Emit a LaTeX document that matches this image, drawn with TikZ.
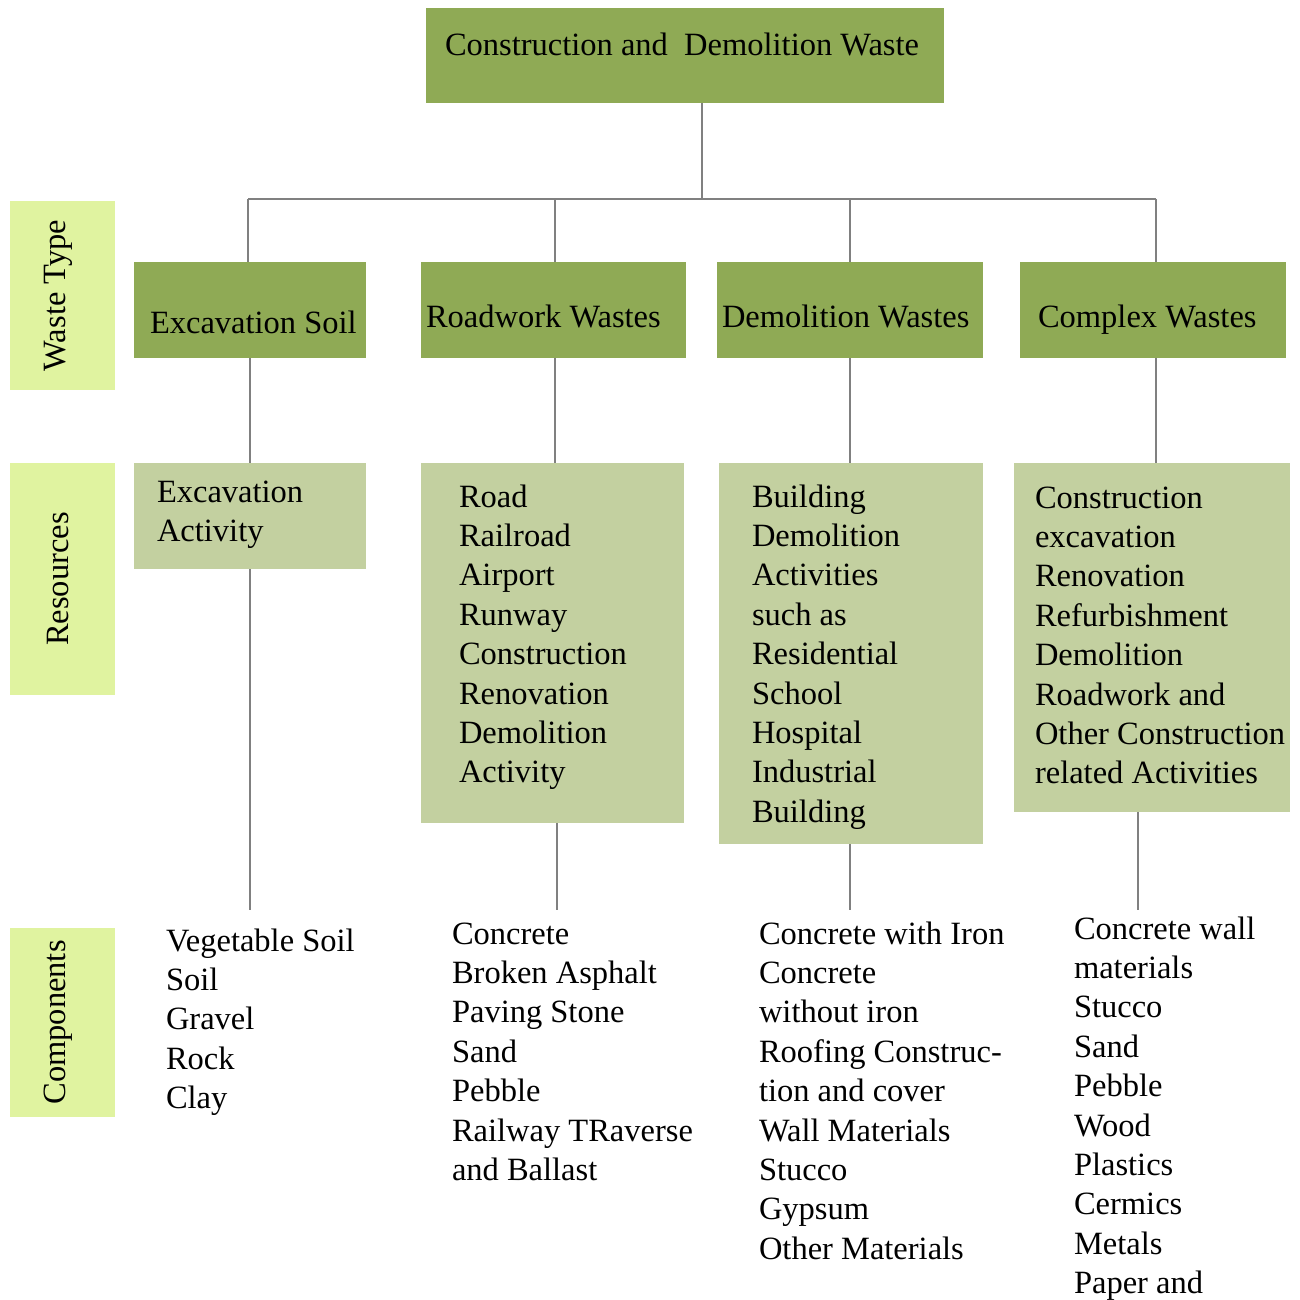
\documentclass[tikz,border=0pt]{standalone}
\usepackage{fontspec}
\setmainfont{Liberation Serif}
\definecolor{headgreen}{HTML}{8FAA55}
\definecolor{srcgreen}{HTML}{C3D0A0}
\definecolor{tagyellow}{HTML}{E0F3A0}
\definecolor{wire}{HTML}{808080}
% left-aligned line stack whose baseline is that of its first line
\newcommand\colstack[1]{\begin{tabular}[t]{@{}l@{}}#1\end{tabular}}
\begin{document}
\begin{tikzpicture}[x=1pt,y=-1pt,
  box/.style={rectangle,draw=none,inner sep=0pt,outer sep=0pt},
  headbox/.style={box,fill=headgreen},
  srcbox/.style={box,fill=srcgreen},
  tagbox/.style={box,fill=tagyellow},
  txt/.style={inner sep=0pt,outer sep=0pt,anchor=base west,
    font=\fontsize{32.5}{39.4}\selectfont},
  tagtxt/.style={inner sep=0pt,rotate=90,anchor=center,
    font=\fontsize{32.5}{39.4}\selectfont},
  conn/.style={draw=wire,line width=1.6pt}]
\useasboundingbox (0,0) rectangle (1299,1300);

% side labels
\node[tagbox,minimum width=105pt,minimum height=189pt] (lwaste) at (62.5,295.5) {};
\node[tagbox,minimum width=105pt,minimum height=232pt] (lres) at (62.5,579) {};
\node[tagbox,minimum width=105pt,minimum height=189pt] (lcomp) at (62.5,1022.5) {};
\node[tagtxt] (lwastetxt) at (lwaste.center -| 58,0) {Waste Type};
\node[tagtxt] (lrestxt) at (lres.center -| 58,0) {Resources};
\node[tagtxt] (lcomptxt) at (lcomp.center -| 58,0) {Components};

% root
\node[headbox,minimum width=518pt,minimum height=95pt] (title) at (685,55.5) {};
\node[txt] (titletxt) at (445,56) {Construction and~ Demolition Waste};

% waste types
\node[headbox,minimum width=232pt,minimum height=96pt] (ex) at (250,310) {};
\node[headbox,minimum width=265pt,minimum height=96pt] (road) at (553.5,310) {};
\node[headbox,minimum width=266pt,minimum height=96pt] (demo) at (850,310) {};
\node[headbox,minimum width=266pt,minimum height=96pt] (cplx) at (1153,310) {};
\node[txt] (extxt) at (150,333) {Excavation Soil};
\node[txt] (roadtxt) at (426,327) {Roadwork Wastes};
\node[txt] (demotxt) at (722,327) {Demolition Wastes};
\node[txt] (cplxtxt) at (1038,327) {Complex Wastes};

% resources
\node[srcbox,minimum width=232pt,minimum height=106pt] (rex) at (250,516) {};
\node[srcbox,minimum width=263pt,minimum height=360pt] (rroad) at (552.5,643) {};
\node[srcbox,minimum width=264pt,minimum height=381pt] (rdemo) at (851,653.5) {};
\node[srcbox,minimum width=276pt,minimum height=349pt] (rcplx) at (1152,637.5) {};
\node[txt] (rextxt) at (157,502) {\colstack{Excavation\\Activity}};
\node[txt] (rroadtxt) at (459,507) {\colstack{Road\\Railroad\\Airport\\Runway\\Construction\\Renovation\\Demolition\\Activity}};
\node[txt] (rdemotxt) at (752,507) {\colstack{Building\\Demolition\\Activities\\such as\\Residential\\School\\Hospital\\Industrial\\Building}};
\node[txt] (rcplxtxt) at (1035,508) {\colstack{Construction\\excavation\\Renovation\\Refurbishment\\Demolition\\Roadwork and\\Other Construction\\related Activities}};

% components
\node[txt] (cex) at (166,951) {\colstack{Vegetable Soil\\Soil\\Gravel\\Rock\\Clay}};
\node[txt] (croad) at (452,944) {\colstack{Concrete\\Broken Asphalt\\Paving Stone\\Sand\\Pebble\\Railway TRaverse\\and Ballast}};
\node[txt] (cdemo) at (759,944) {\colstack{Concrete with Iron\\Concrete\\without iron\\Roofing Construc-\\tion and cover\\Wall Materials\\Stucco\\Gypsum\\Other Materials}};
\node[txt] (ccplx) at (1074,939) {\colstack{Concrete wall\\materials\\Stucco\\Sand\\Pebble\\Wood\\Plastics\\Cermics\\Metals\\Paper and}};

% tree wiring
\coordinate (bus) at (702,199);
\coordinate (b1) at (248,199);
\coordinate (b2) at (555,199);
\coordinate (b3) at (850,199);
\coordinate (b4) at (1156,199);
\coordinate (k1) at (250,910);
\coordinate (k2) at (557,910);
\coordinate (k3) at (850,910);
\coordinate (k4) at (1138,910);

\draw[conn] (title.south -| bus) -- (bus);
\draw[conn] (b1) -- (b4);
\draw[conn] (b1) -- (b1 |- ex.north);
\draw[conn] (b2) -- (b2 |- road.north);
\draw[conn] (b3) -- (b3 |- demo.north);
\draw[conn] (b4) -- (b4 |- cplx.north);

\draw[conn] (ex.south) -- (rex.north);
\draw[conn] (road.south -| b2) -- (b2 |- rroad.north);
\draw[conn] (demo.south -| b3) -- (b3 |- rdemo.north);
\draw[conn] (cplx.south -| b4) -- (b4 |- rcplx.north);

\draw[conn] (rex.south) -- (k1);
\draw[conn] (rroad.south -| k2) -- (k2);
\draw[conn] (rdemo.south -| k3) -- (k3);
\draw[conn] (rcplx.south -| k4) -- (k4);
\end{tikzpicture}
\end{document}
